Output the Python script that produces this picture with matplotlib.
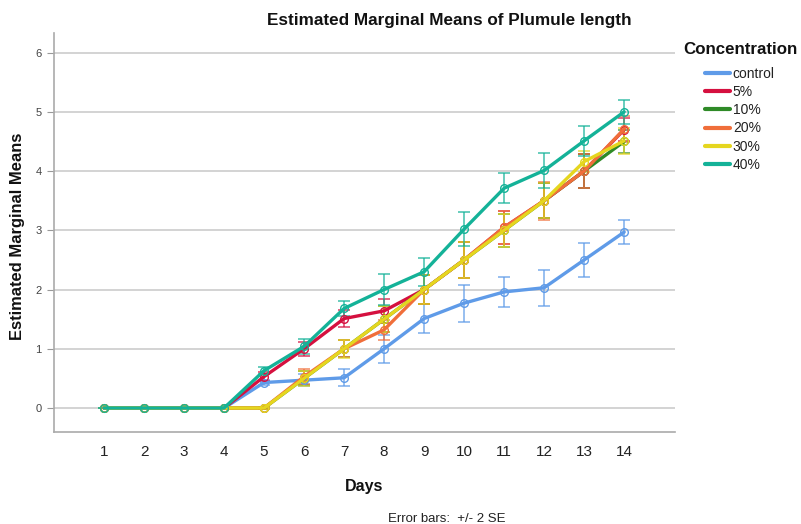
import matplotlib
matplotlib.use("Agg")
import matplotlib.pyplot as plt
import numpy as np

plt.rcParams['font.family'] = ['Liberation Sans', 'DejaVu Sans']

days = list(range(1, 15))
series_names = ["control", "5%", "10%", "20%", "30%", "40%"]
colors = ["#5f9be8", "#d5103f", "#2f8a27", "#f06e3a", "#e5d61f", "#14b298"]

control = [0, 0, 0, 0, 0.43, 0.47, 0.51, 1.0, 1.51, 1.77, 1.96, 2.03, 2.5, 2.97]
conc5 = [0, 0, 0, 0, 0.53, 1.0, 1.51, 1.64, 2.0, 2.5, 3.05, 3.5, 4.0, 4.7]
conc10 = [0, 0, 0, 0, 0, 0.5, 1.0, 1.5, 2.0, 2.5, 3.0, 3.5, 4.0, 4.5]
conc20 = [0, 0, 0, 0, 0, 0.53, 1.0, 1.32, 2.0, 2.5, 3.05, 3.5, 4.0, 4.71]
conc30 = [0, 0, 0, 0, 0, 0.5, 1.0, 1.5, 2.0, 2.5, 3.0, 3.5, 4.16, 4.51]
conc40 = [0, 0, 0, 0, 0.63, 1.04, 1.68, 2.0, 2.3, 3.02, 3.71, 4.01, 4.51, 5.0]

err_control = [0, 0, 0, 0, 0.05, 0.1, 0.14, 0.24, 0.24, 0.31, 0.25, 0.3, 0.29, 0.2]
err5 = [0, 0, 0, 0, 0.08, 0.12, 0.14, 0.2, 0.25, 0.3, 0.28, 0.3, 0.29, 0.2]
err10 = [0, 0, 0, 0, 0.02, 0.12, 0.14, 0.22, 0.25, 0.3, 0.28, 0.3, 0.29, 0.2]
err20 = [0, 0, 0, 0, 0.02, 0.13, 0.14, 0.17, 0.25, 0.31, 0.28, 0.32, 0.29, 0.22]
err30 = [0, 0, 0, 0, 0.02, 0.13, 0.15, 0.22, 0.25, 0.31, 0.28, 0.3, 0.17, 0.22]
err40 = [0, 0, 0, 0, 0.06, 0.12, 0.13, 0.26, 0.24, 0.29, 0.25, 0.29, 0.25, 0.2]

values = [control, conc5, conc10, conc20, conc30, conc40]
errors = [err_control, err5, err10, err20, err30, err40]

yticks = [0, 1, 2, 3, 4, 5, 6]

fig = plt.figure(figsize=(8.01, 5.24), dpi=100)
ax = fig.add_axes([54/801, 1-432/524, (675-54)/801, (432-33)/524])

for name, c, v, e in zip(series_names, colors, values, errors):
    ax.errorbar(days, v, yerr=e, color=c, ecolor=c, elinewidth=1.2, capsize=4.5,
                capthick=1.2, alpha=0.75, fmt='none', zorder=3)
    ax.plot(days, v, color=c, lw=2.4, marker='o', markersize=5.5, markerfacecolor='none',
            markeredgewidth=1.0, label=name, zorder=4, solid_capstyle='round')

ax.set_xlim(-0.25, 15.27)
ax.set_ylim(-0.405, 6.33)
ax.set_xticks(days)
ax.set_yticks(yticks)
ax.set_xticklabels([str(d) for d in days], fontsize=11, color='#222222')
ax.set_yticklabels([str(t) for t in yticks], fontsize=8, color='#444444')
ax.tick_params(axis='x', length=0, pad=9)
ax.tick_params(axis='y', length=5, width=0.8, color='#999999', pad=4, direction='out')
ax.grid(axis='y', color='#cccccc', lw=1.2)
ax.set_axisbelow(True)
for s in ['top', 'right']:
    ax.spines[s].set_visible(False)
for s in ['left', 'bottom']:
    ax.spines[s].set_color('#aaaaaa')
    ax.spines[s].set_linewidth(1.2)

fig.text(449/801, 1-21/524, "Estimated Marginal Means of Plumule length", ha='center', va='center',
         fontsize=12.3, fontweight='bold', color='#111111')
fig.text(364/801, 1-486/524, "Days", ha='center', va='center', fontsize=11.5, fontweight='bold', color='#111111')
fig.text(18/801, 1-236/524, "Estimated Marginal Means", ha='center', va='center', rotation=90,
         fontsize=11.9, fontweight='bold', color='#111111')
fig.text(447/801, 1-519/524, "Error bars:  +/- 2 SE", ha='center', va='center', fontsize=9.5, color='#222222')

fig.text(683/801, 1-49/524, "Concentration", ha='left', va='center', fontsize=12.2,
         fontweight='bold', color='#111111')
leg = ax.legend(loc='upper left', bbox_to_anchor=(705/801, 1-67/524), bbox_transform=fig.transFigure,
                frameon=False, fontsize=10, handlelength=1.8,
                handletextpad=0.2, labelspacing=0.3, borderpad=0, borderaxespad=0)
for h in leg.get_lines():
    h.set_marker('')
    h.set_linewidth(3)
for t in leg.get_texts():
    t.set_color('#222222')

fig.savefig("out.png", dpi=100)
